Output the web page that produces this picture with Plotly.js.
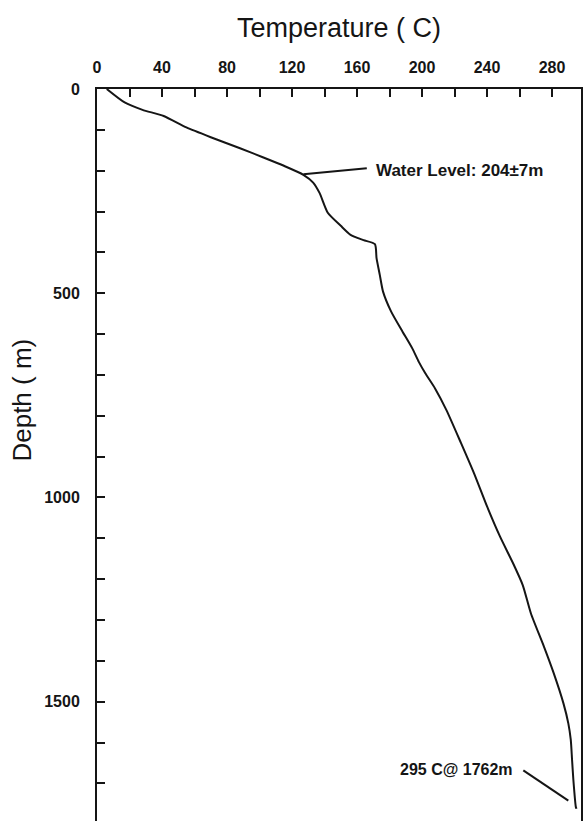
<!DOCTYPE html>
<html>
<head>
<meta charset="utf-8">
<script src="https://cdn.plot.ly/plotly-3.0.1.min.js"></script>
<style>
html,body{margin:0;padding:0;background:#fff;}
#chart{width:585px;height:821px;}
</style>
</head>
<body>
<div id="chart"></div>
<script>
// Temperature (C) vs depth (m) profile
const temperatureC = [6, 17, 28, 41, 55, 70, 88, 102, 115, 127, 133, 137, 142, 150, 156, 164, 171, 172, 174, 176, 181, 188, 194, 198, 202, 208, 215, 224, 232, 240, 248, 256, 262, 267, 275, 281, 287, 290, 291.5, 292.3, 293.1, 294.6, 295];
const depthM = [0, 33, 51, 66, 94, 118, 145, 167, 188, 210, 229, 255, 303, 335, 357, 370, 380, 414, 455, 496, 545, 594, 635, 668, 696, 733, 786, 867, 941, 1022, 1096, 1161, 1215, 1284, 1365, 1430, 1504, 1553, 1593, 1642, 1691, 1757, 1762];

const xTickVals = [0, 40, 80, 120, 160, 200, 240, 280];
const yTickVals = [0, 500, 1000, 1500];

const waterLevelText = "Water Level: 204\u00B17m";
const bottomText = "295 C@ 1762m";

const FONT = "Liberation Sans, Arial, Helvetica, sans-serif";
const INK = "#151515";

const trace = {
  x: temperatureC,
  y: depthM,
  type: "scatter",
  mode: "lines",
  line: {color: INK, width: 2, shape: "spline", smoothing: 0.6},
  hoverinfo: "skip",
  showlegend: false
};

const layout = {
  width: 585,
  height: 821,
  margin: {l: 97, r: 4, t: 89, b: 0, pad: 0},
  paper_bgcolor: "#fff",
  plot_bgcolor: "#fff",
  font: {family: FONT, color: INK},
  xaxis: {
    side: "top",
    range: [0, 297.8],
    tickvals: xTickVals,
    ticktext: xTickVals.map(String),
    ticks: "inside",
    ticklen: 8,
    tickwidth: 2,
    tickcolor: INK,
    minor: {tickvals: [20, 60, 100, 140, 180, 220, 260], ticks: "inside", ticklen: 8, tickwidth: 2, tickcolor: INK, showgrid: false},
    showline: true,
    linewidth: 2,
    linecolor: INK,
    showgrid: false,
    zeroline: false,
    ticklabelstandoff: 8,
    tickfont: {family: FONT, size: 16, weight: "bold", color: INK},
    title: {text: "Temperature ( C)", font: {family: FONT, size: 27, color: INK}, standoff: 13}
  },
  yaxis: {
    range: [1792, 0],
    tickvals: yTickVals,
    ticktext: yTickVals.map(String),
    ticks: "inside",
    ticklen: 8,
    tickwidth: 2,
    tickcolor: INK,
    minor: {tickvals: [100, 200, 300, 400, 600, 700, 800, 900, 1100, 1200, 1300, 1400, 1600, 1700], ticks: "inside", ticklen: 8, tickwidth: 2, tickcolor: INK, showgrid: false},
    showline: true,
    mirror: true,
    linewidth: 2,
    linecolor: INK,
    showgrid: false,
    zeroline: false,
    ticklabelstandoff: 12,
    tickfont: {family: FONT, size: 16, weight: "bold", color: INK}
  },
  shapes: [
    {type: "line", xref: "x", yref: "y", x0: 127, y0: 209, x1: 166, y1: 194, line: {color: INK, width: 2}},
    {type: "line", xref: "x", yref: "y", x0: 262.3, y0: 1668, x1: 290, y1: 1742, line: {color: INK, width: 2}}
  ],
  annotations: [
    {text: "Depth ( m)", xref: "paper", yref: "paper", x: -0.154, y: 0.575, textangle: -90, showarrow: false,
     xanchor: "center", yanchor: "middle", font: {family: FONT, size: 26, color: INK}},
    {text: waterLevelText, xref: "x", yref: "y", x: 170.5, y: 200, showarrow: false,
     xanchor: "left", yanchor: "middle", font: {family: FONT, size: 17, weight: "bold", color: INK}},
    {text: bottomText, xref: "x", yref: "y", x: 257.2, y: 1665, showarrow: false,
     xanchor: "right", yanchor: "middle", font: {family: FONT, size: 16, weight: "bold", color: INK}}
  ]
};

Plotly.newPlot("chart", [trace], layout, {staticPlot: true, displayModeBar: false});
</script>
</body>
</html>
